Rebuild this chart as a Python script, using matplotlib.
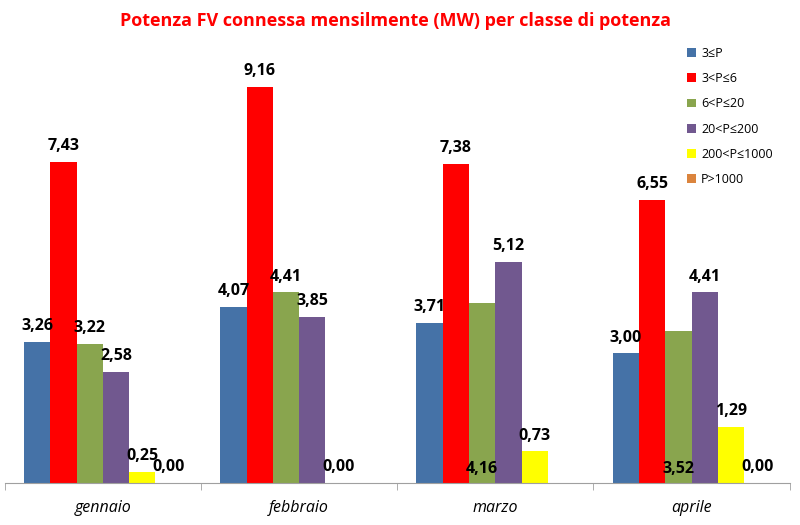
import numpy as np
import matplotlib
matplotlib.use("Agg")
import matplotlib.pyplot as plt
from matplotlib.patches import Patch

months = ["gennaio", "febbraio", "marzo", "aprile"]
classes = ["3≤P", "3<P≤6", "6<P≤20", "20<P≤200", "200<P≤1000", "P>1000"]
colors = ["#4572A7", "#FF0000", "#89A54E", "#71588F", "#FFFF00", "#DB843D"]

# values per class (nan = no data / no label)
p_le3 = [3.26, 4.07, 3.71, 3.00]
p_3_6 = [7.43, 9.16, 7.38, 6.55]
p_6_20 = [3.22, 4.41, 4.16, 3.52]
p_20_200 = [2.58, 3.85, 5.12, 4.41]
p_200_1000 = [0.25, 0.00, 0.73, 1.29]
p_gt1000 = [0.00, np.nan, np.nan, 0.00]
series = [p_le3, p_3_6, p_6_20, p_20_200, p_200_1000, p_gt1000]

# Excel put some labels at the bottom of the bar
label_at_base = {(2, 2), (2, 3)}

plt.rcParams["font.family"] = ["Open Sans", "DejaVu Sans"]

fig = plt.figure(figsize=(8, 5.25), dpi=100)
ax = fig.add_axes([0.006, 0.08, 0.981, 0.823])

x = np.arange(len(months))
w = 0.134
for s, vals in enumerate(series):
    offs = (s - 2.5) * w
    v = np.array(vals, dtype=float)
    ax.bar(x + offs, np.nan_to_num(v), width=w, color=colors[s], zorder=2)
    for i, val in enumerate(v):
        if np.isnan(val):
            continue
        txt = f"{val:.2f}".replace(".", ",")
        if (s, i) in label_at_base:
            ax.text(x[i] + offs, 0.15, txt, ha="center", va="bottom",
                    fontsize=11.5, fontweight="bold")
        else:
            ax.text(x[i] + offs, val + 0.18, txt, ha="center", va="bottom",
                    fontsize=11.5, fontweight="bold")

ax.set_xlim(-0.5, len(months) - 0.5)
ax.set_ylim(0, 10)
ax.set_yticks([])
for sp in ["top", "right", "left"]:
    ax.spines[sp].set_visible(False)
ax.spines["bottom"].set_color("#A0A0A0")
ax.set_xticks(x)
ax.set_xticklabels(months, fontstyle="italic", fontsize=11.5)
ax.tick_params(axis="x", which="major", length=0, pad=12)
ax.set_xticks(np.arange(len(months) + 1) - 0.5, minor=True)
ax.tick_params(axis="x", which="minor", length=5, color="#A0A0A0")

handles = [Patch(facecolor=c, label=l) for c, l in zip(colors, classes)]
fig.legend(handles=handles, loc="upper left", bbox_to_anchor=(0.845, 0.932),
           frameon=False, fontsize=9, handlelength=0.7, handleheight=0.7,
           handletextpad=0.4, labelspacing=0.98)

fig.text(0.494, 0.96, "Potenza FV connessa mensilmente (MW) per classe di potenza",
         ha="center", va="center", color="#FF0000", fontsize=13, fontweight="bold")

fig.savefig("out.png", dpi=100)
